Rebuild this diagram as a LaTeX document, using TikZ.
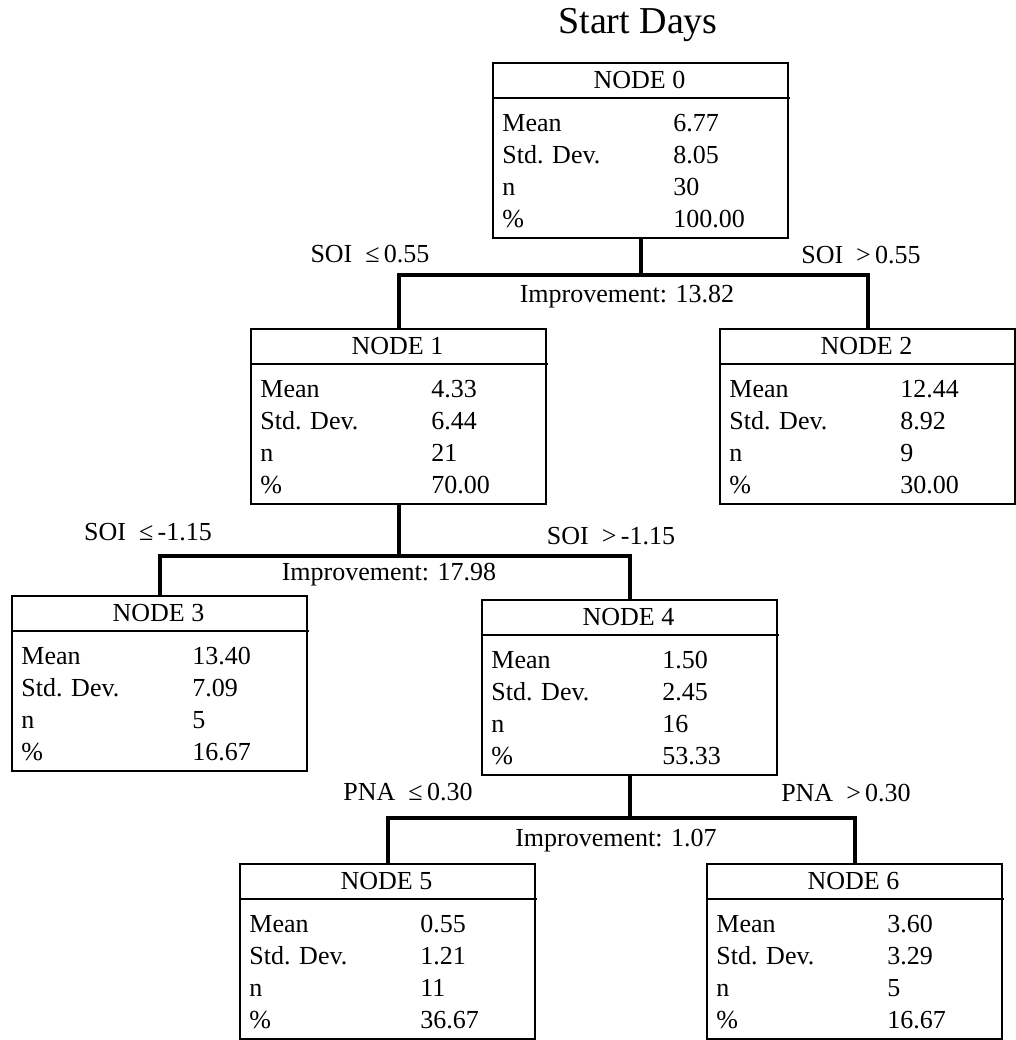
\documentclass[tikz,border=0pt]{standalone}
\usepackage{fontspec}
\setmainfont{Liberation Serif}
\tikzstyle{ndbox} = [draw, line width=1pt, anchor=north west, minimum width=147.5pt, minimum height=87.5pt, inner sep=0pt]
\tikzstyle{ndtxt} = [anchor=base west, inner sep=0pt, font=\fontsize{13pt}{15pt}\selectfont]
\tikzstyle{ndhead} = [anchor=base, inner sep=0pt, font=\fontsize{13pt}{15pt}\selectfont]
\tikzstyle{splt} = [inner sep=0pt, font=\fontsize{13pt}{15pt}\selectfont]
\tikzstyle{brch} = [line width=2pt]
\begin{document}
\begin{tikzpicture}[x=0.5pt,y=-0.5pt]
        \useasboundingbox (0,0) rectangle (1016,1040);
        \node[splt, font=\fontsize{19pt}{22pt}\selectfont] (title) at (638,25) {Start Days};
        % tree nodes
        \foreach \k/\x/\y/\mn/\sd/\nn/\pc in {0/492/62/6.77/8.05/30/100.00,
            1/250/328/4.33/6.44/21/70.00, 2/719/328/12.44/8.92/9/30.00,
            3/11/595/13.40/7.09/5/16.67, 4/481/599/1.50/2.45/16/53.33,
            5/239/863/0.55/1.21/11/36.67, 6/706/863/3.60/3.29/5/16.67} {
          \node[ndbox] (n\k) at (\x,\y) {};
          \draw[line width=1pt] (n\k.north west) ++(0,36) -- ++(298,0);
          \node[ndhead] (h\k) at (\x+147.5,\y+26) {NODE \k};
          \node[ndtxt] (lm\k) at (\x+10,\y+69) {Mean};
          \node[ndtxt] (vm\k) at (\x+181,\y+69) {\mn};
          \node[ndtxt] (ls\k) at (\x+10,\y+101) {Std. Dev.};
          \node[ndtxt] (vs\k) at (\x+181,\y+101) {\sd};
          \node[ndtxt] (ln\k) at (\x+10,\y+133) {n};
          \node[ndtxt] (vn\k) at (\x+181,\y+133) {\nn};
          \node[ndtxt] (lp\k) at (\x+10,\y+165) {\%};
          \node[ndtxt] (vp\k) at (\x+181,\y+165) {\pc};
        }
        % splits
        \coordinate (s0) at (n0.south |- 0,275);
        \coordinate (s1) at (n1.south |- 0,556);
        \coordinate (s4) at (n4.south |- 0,818);
        \draw[brch] (n0.south) -- (s0);
        \draw[brch] (n1.north) |- (s0) -| (n2.north);
        \draw[brch] (n1.south) -- (s1);
        \draw[brch] (n3.north) |- (s1) -| (n4.north);
        \draw[brch] (n4.south) -- (s4);
        \draw[brch] (n5.north) |- (s4) -| (n6.north);
        \node[splt] (c1) at (370,254) {SOI\ \ ≤\,0.55};
        \node[splt] (c2) at (861,255) {SOI\ \ >\,0.55};
        \node[splt] (i0) at (627,297) {Improvement: 13.82};
        \node[splt] (c3) at (148,532) {SOI\ \ ≤\,-1.15};
        \node[splt] (c4) at (611,536) {SOI\ \ >\,-1.15};
        \node[splt] (i1) at (389,575) {Improvement: 17.98};
        \node[splt] (c5) at (408,792) {PNA\ \ ≤\,0.30};
        \node[splt] (c6) at (846,793) {PNA\ \ >\,0.30};
        \node[splt] (i4) at (616,841) {Improvement: 1.07};
      \end{tikzpicture}
\end{document}
